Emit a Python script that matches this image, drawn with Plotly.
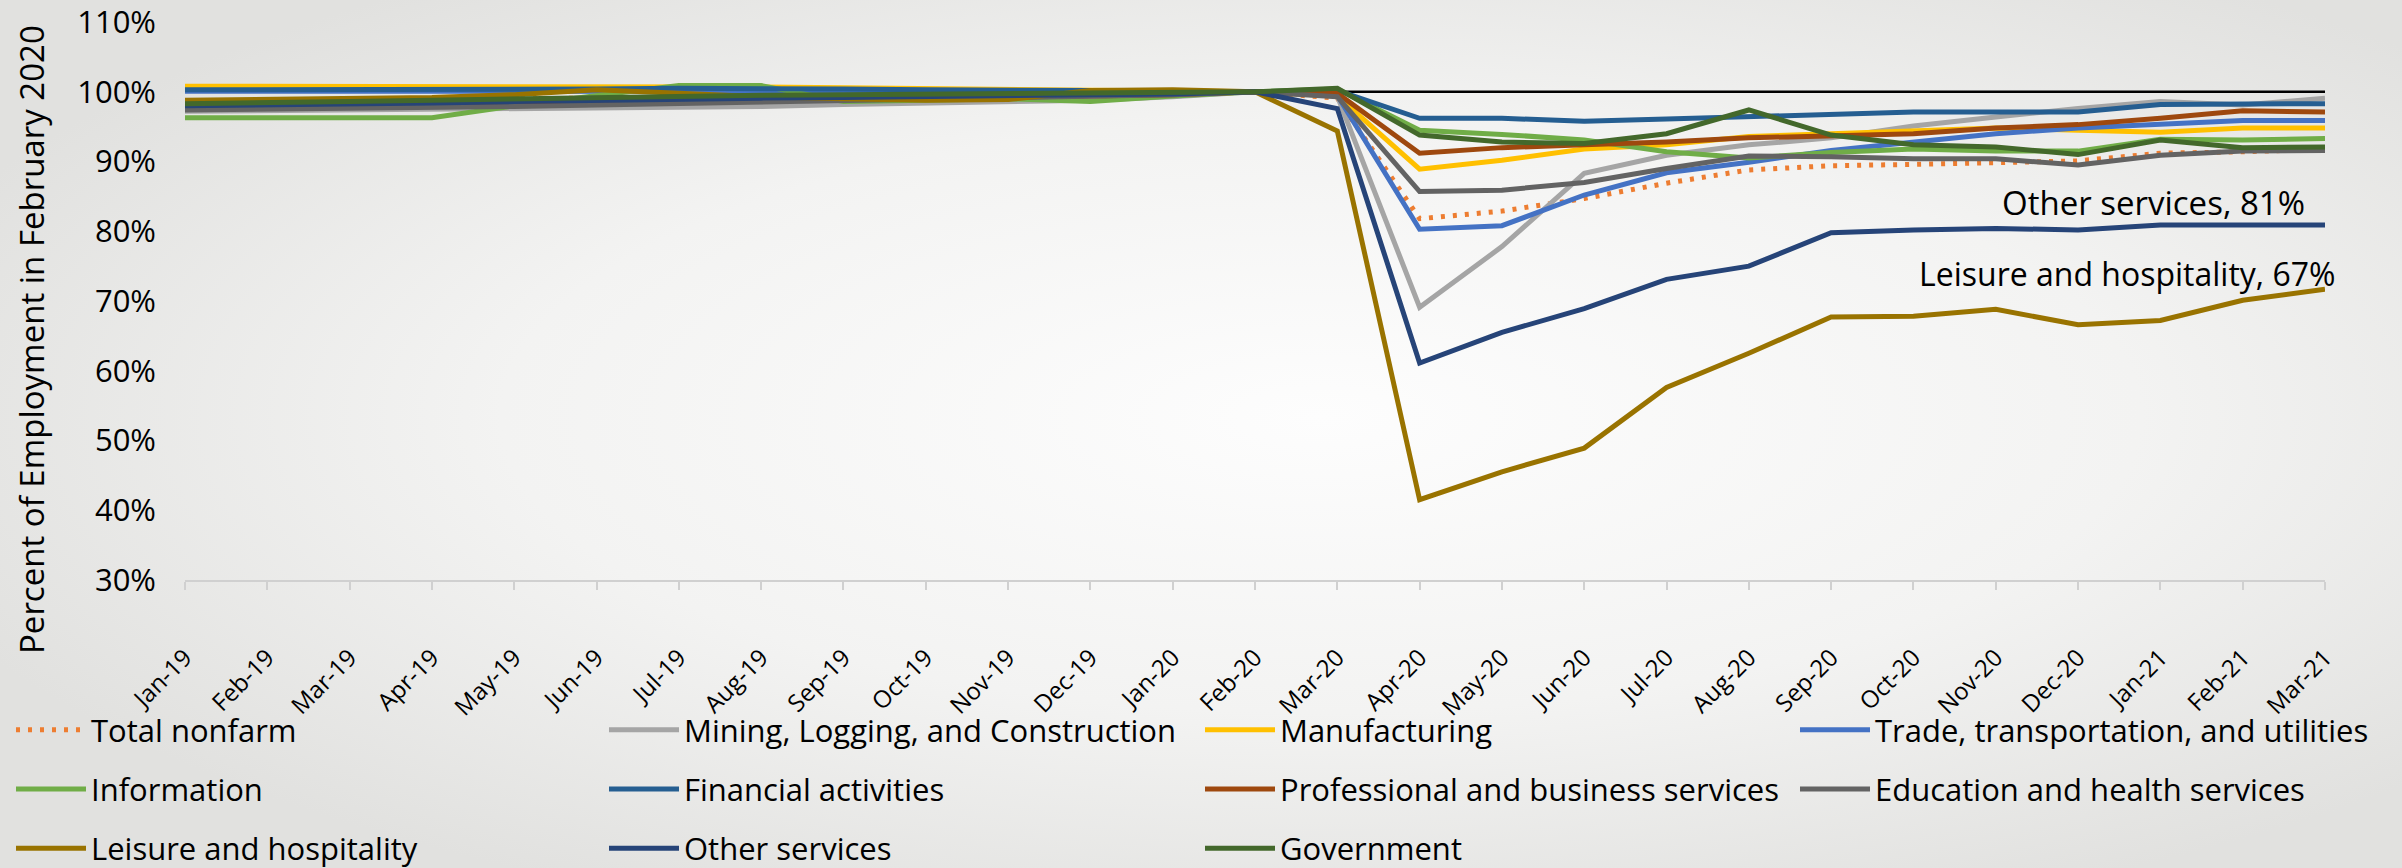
import base64
import plotly.graph_objects as go

months = ["Jan-19", "Feb-19", "Mar-19", "Apr-19", "May-19", "Jun-19", "Jul-19", "Aug-19",
          "Sep-19", "Oct-19", "Nov-19", "Dec-19", "Jan-20", "Feb-20", "Mar-20", "Apr-20",
          "May-20", "Jun-20", "Jul-20", "Aug-20", "Sep-20", "Oct-20", "Nov-20", "Dec-20",
          "Jan-21", "Feb-21", "Mar-21"]

total_nonfarm = [98.6, 98.7, 98.8, 98.9, 98.9, 99.0, 99.1, 99.2, 99.4, 99.5, 99.6, 99.7, 99.8, 100.0,
                 99.1, 81.8, 82.9, 84.7, 86.9, 88.8, 89.4, 89.6, 89.9, 90.1, 91.2, 91.4, 91.8]
mining = [97.2, 97.3, 97.3, 97.4, 97.5, 97.6, 97.7, 97.9, 98.2, 98.4, 98.6, 98.8, 99.3, 100.0,
          99.4, 69.1, 77.8, 88.3, 90.9, 92.4, 93.4, 95.1, 96.4, 97.6, 98.6, 98.1, 99.1]
manufacturing = [100.8, 100.8, 100.8, 100.8, 100.8, 100.7, 100.7, 100.7, 100.6, 100.5, 100.4, 100.2, 100.1, 100.0,
                 99.4, 88.9, 90.2, 91.8, 92.4, 93.6, 94.0, 94.4, 94.8, 94.5, 94.2, 94.8, 94.8]
trade = [100.1, 100.1, 100.1, 100.1, 100.1, 100.1, 100.1, 100.1, 100.1, 100.1, 100.1, 100.1, 100.0, 100.0,
         99.5, 80.3, 80.8, 85.2, 88.4, 89.9, 91.6, 92.8, 94.0, 94.8, 95.3, 95.9, 95.9]
information = [96.3, 96.3, 96.3, 96.3, 98.0, 99.4, 100.9, 100.9, 98.6, 98.8, 99.0, 98.6, 99.4, 100.0,
               100.4, 94.5, 93.9, 93.1, 91.4, 90.5, 91.3, 91.8, 91.5, 91.5, 93.2, 93.1, 93.3]
financial = [100.3, 100.3, 100.3, 100.3, 100.3, 100.4, 100.5, 100.5, 100.4, 100.3, 100.3, 100.2, 100.1, 100.0,
             100.2, 96.2, 96.2, 95.8, 96.1, 96.4, 96.8, 97.1, 97.1, 97.1, 98.2, 98.3, 98.3]
professional = [97.8, 97.9, 98.0, 98.1, 98.3, 98.5, 98.7, 98.8, 98.9, 99.1, 99.3, 99.4, 99.6, 100.0,
                99.8, 91.2, 92.0, 92.4, 92.8, 93.4, 93.7, 94.0, 94.8, 95.3, 96.2, 97.3, 97.1]
education = [97.4, 97.5, 97.6, 97.8, 97.9, 98.1, 98.3, 98.5, 98.7, 98.9, 99.1, 99.3, 99.6, 100.0,
             99.3, 85.7, 85.9, 87.0, 89.0, 90.8, 90.7, 90.4, 90.4, 89.5, 90.9, 91.5, 91.6]
leisure = [98.8, 98.9, 99.0, 99.2, 99.6, 100.3, 99.8, 99.3, 99.0, 98.8, 98.9, 100.2, 100.3, 100.0,
           94.4, 41.5, 45.5, 48.9, 57.6, 62.5, 67.7, 67.8, 68.8, 66.6, 67.2, 70.1, 71.7]
other_services = [98.0, 98.1, 98.2, 98.4, 98.6, 98.8, 99.0, 99.1, 99.2, 99.3, 99.4, 99.5, 99.7, 100.0,
                  97.6, 61.1, 65.5, 68.9, 73.1, 75.0, 79.8, 80.2, 80.4, 80.2, 80.9, 80.9, 80.9]
government = [98.3, 98.4, 98.6, 98.8, 99.0, 99.2, 99.4, 99.5, 99.6, 99.7, 99.7, 99.8, 99.9, 100.0,
              100.5, 93.8, 92.8, 92.6, 94.0, 97.4, 93.8, 92.4, 92.1, 91.0, 93.1, 92.0, 92.1]

y_ticks = [30, 40, 50, 60, 70, 80, 90, 100, 110]
y_tick_labels = ["30%", "40%", "50%", "60%", "70%", "80%", "90%", "100%", "110%"]

# (name, values, color, dash, legend column)
series = [
    ("Total nonfarm", total_nonfarm, "#ED7D31", "4px,8px", "legend"),
    ("Mining, Logging, and Construction", mining, "#A5A5A5", "solid", "legend2"),
    ("Manufacturing", manufacturing, "#FFC000", "solid", "legend3"),
    ("Trade, transportation, and utilities", trade, "#4472C4", "solid", "legend4"),
    ("Information", information, "#70AD47", "solid", "legend"),
    ("Financial activities", financial, "#255E91", "solid", "legend2"),
    ("Professional and business services", professional, "#9E480E", "solid", "legend3"),
    ("Education and health services", education, "#636363", "solid", "legend4"),
    ("Leisure and hospitality", leisure, "#997300", "solid", "legend"),
    ("Other services", other_services, "#264478", "solid", "legend2"),
    ("Government", government, "#43682B", "solid", "legend3"),
]

FONT = "'Open Sans', Lato, sans-serif"
W, H = 2402, 868
ML, MR, MT, MB = 185, 77, 22, 288

fig = go.Figure()
fig.add_hline(y=100, line=dict(color="#000000", width=2.5), layer="below")

for name, vals, color, dash, leg in series:
    fig.add_trace(go.Scatter(
        x=months, y=vals, name=name, mode="lines",
        line=dict(color=color, width=5, dash=dash),
        legend=leg, legendgroup=name,
    ))

# background gradient
svg = ("<svg xmlns='http://www.w3.org/2000/svg' width='2402' height='868'>"
       "<defs><radialGradient id='g' cx='55%' cy='48%' r='62%'>"
       "<stop offset='0' stop-color='#fdfdfd'/><stop offset='0.55' stop-color='#f3f3f2'/>"
       "<stop offset='1' stop-color='#e1e1df'/></radialGradient></defs>"
       "<rect width='100%' height='100%' fill='url(#g)'/></svg>")
src = "data:image/svg+xml;base64," + base64.b64encode(svg.encode()).decode()
pw, ph = W - ML - MR, H - MT - MB
fig.add_layout_image(dict(source=src, xref="paper", yref="paper",
                          x=-ML / pw, y=1 + MT / ph, sizex=W / pw, sizey=H / ph,
                          xanchor="left", yanchor="top", sizing="stretch", layer="below"))

leg_common = dict(orientation="v", xref="container", yref="container", yanchor="top",
                  xanchor="left", bgcolor="rgba(0,0,0,0)", borderwidth=0,
                  font=dict(family=FONT, size=31, color="#000000"),
                  itemwidth=70, tracegroupgap=16, traceorder="grouped")
col_x = [11, 604, 1200, 1795]
leg_top = 1 - 703 / H
fig.update_layout(
    legend=dict(leg_common, x=col_x[0] / W, y=leg_top),
    legend2=dict(leg_common, x=col_x[1] / W, y=leg_top),
    legend3=dict(leg_common, x=col_x[2] / W, y=leg_top),
    legend4=dict(leg_common, x=col_x[3] / W, y=leg_top),
)

fig.update_layout(
    width=W, height=H,
    margin=dict(l=ML, r=MR, t=MT, b=MB, autoexpand=False),
    paper_bgcolor="#eeeeec", plot_bgcolor="rgba(0,0,0,0)",
    font=dict(family=FONT, color="#000000"),
    showlegend=True,
    xaxis=dict(type="category", range=[0, len(months) - 1], showgrid=False,
               showline=True, linecolor="#d0d0d0", linewidth=2,
               ticks="outside", ticklen=8, tickcolor="#d0d0d0", tickwidth=2,
               tickangle=-45, tickfont=dict(family=FONT, size=24, color="#000000"),
               ticklabelstandoff=44, ticklabeloverflow="allow",
               zeroline=False, automargin=False),
    yaxis=dict(range=[29.98, 110.02], tickmode="array", tickvals=y_ticks,
               ticktext=y_tick_labels, showgrid=False, ticklabeloverflow="allow",
               showline=False, ticks="", zeroline=False, automargin=False,
               tickfont=dict(family=FONT, size=31, color="#000000"),
               ticklabelstandoff=28),
    annotations=[
        dict(text="Percent of Employment in February 2020", textangle=-90,
             xref="paper", yref="paper", x=(32 - ML) / pw, y=(H - MB - 340) / ph,
             xanchor="center", yanchor="middle", showarrow=False,
             font=dict(family=FONT, size=33, color="#000000")),
        dict(text="Other services, 81%", xref="paper", yref="paper",
             x=(2307 - ML) / pw, y=(H - MB - 202) / ph, xanchor="right", yanchor="middle",
             showarrow=False, font=dict(family=FONT, size=33, color="#000000")),
        dict(text="Leisure and hospitality, 67%", xref="paper", yref="paper",
             x=(2337 - ML) / pw, y=(H - MB - 273) / ph, xanchor="right", yanchor="middle",
             showarrow=False, font=dict(family=FONT, size=32, color="#000000")),
    ],
)

fig.write_html("out.html", config={"displayModeBar": False},
               post_script="document.body.style.margin='0px';")
